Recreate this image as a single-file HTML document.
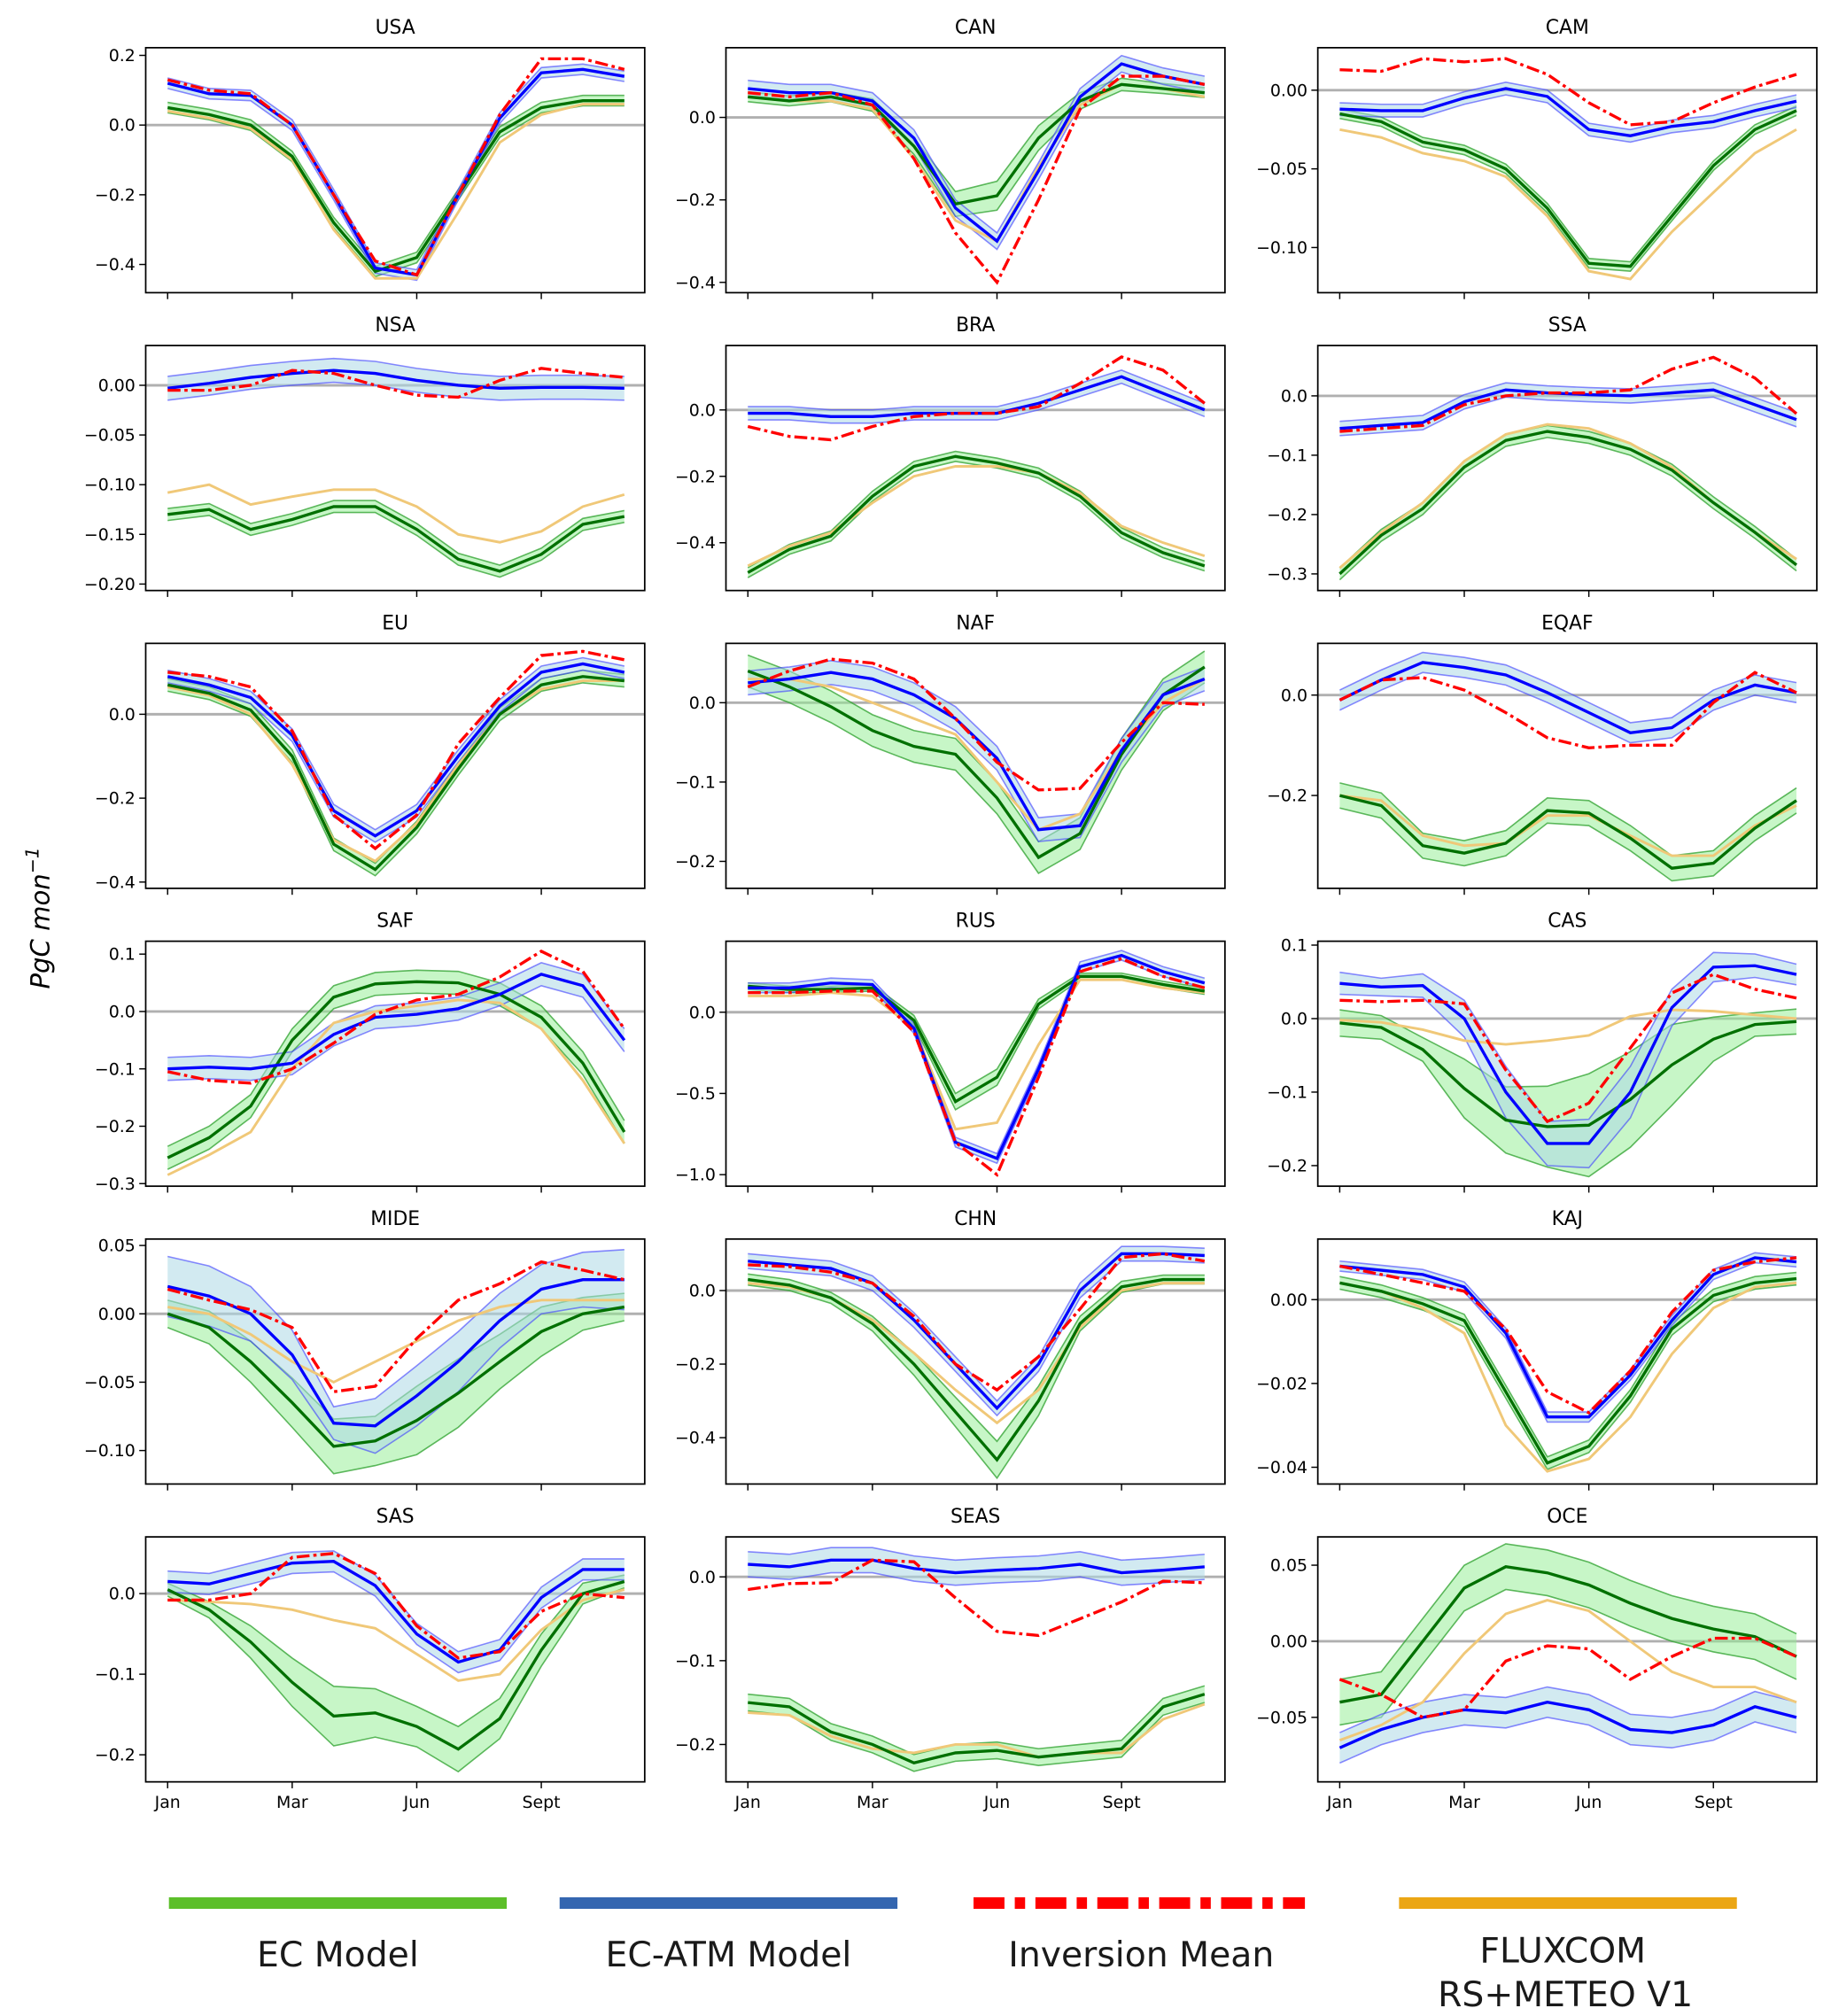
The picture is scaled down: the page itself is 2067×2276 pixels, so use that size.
<!DOCTYPE html>
<html><head><meta charset="utf-8">
<style>
html,body{margin:0;padding:0;background:#fff;}
svg{display:block;font-family:"DejaVu Sans","Liberation Sans",sans-serif;}
</style></head>
<body>
<svg id="fig" width="2067" height="2276" viewBox="0 0 1420 1563.6" preserveAspectRatio="none" xmlns="http://www.w3.org/2000/svg"></svg>
<script>
const months = ["Jan","Feb","Mar","Apr","May","Jun","Jul","Aug","Sep","Oct","Nov","Dec"];
const xTickIdx = [0,3,6,9];
const xTickLabels = ["Jan","Mar","Jun","Sept"];
const regions = ["USA","CAN","CAM","NSA","BRA","SSA","EU","NAF","EQAF","SAF","RUS","CAS","MIDE","CHN","KAJ","SAS","SEAS","OCE"];
const yLims = [[-0.481,0.222],[-0.425,0.169],[-0.1287,0.027],[-0.2065,0.040],[-0.544,0.194],[-0.328,0.0848],[-0.415,0.169],[-0.234,0.0748],[-0.385,0.103],[-0.3045,0.1225],[-1.071,0.437],[-0.228,0.1053],[-0.1245,0.0547],[-0.526,0.14],[-0.044,0.01446],[-0.2336,0.0704],[-0.2446,0.0477],[-0.0924,0.0686]];
const yTicks = [[0.2,0,-0.2,-0.4],[0,-0.2,-0.4],[0,-0.05,-0.1],[0,-0.05,-0.1,-0.15,-0.2],[0,-0.2,-0.4],[0,-0.1,-0.2,-0.3],[0,-0.2,-0.4],[0,-0.1,-0.2],[0,-0.2],[0.1,0,-0.1,-0.2,-0.3],[0,-0.5,-1.0],[0.1,0,-0.1,-0.2],[0.05,0,-0.05,-0.1],[0,-0.2,-0.4],[0,-0.02,-0.04],[0,-0.1,-0.2],[0,-0.1,-0.2],[0.05,0,-0.05]];
const yTickDec = [1,1,2,2,1,1,1,1,1,1,1,1,2,1,2,1,1,2];
const ecatmMean = [
[0.12,0.09,0.085,0.0,-0.2,-0.41,-0.43,-0.2,0.02,0.15,0.16,0.14],
[0.07,0.06,0.06,0.04,-0.05,-0.22,-0.3,-0.13,0.05,0.13,0.1,0.08],
[-0.012,-0.013,-0.013,-0.005,0.001,-0.004,-0.025,-0.029,-0.023,-0.02,-0.013,-0.007],
[-0.003,0.002,0.008,0.012,0.015,0.012,0.005,0.0,-0.003,-0.002,-0.002,-0.003],
[-0.01,-0.01,-0.02,-0.02,-0.01,-0.01,-0.01,0.02,0.06,0.1,0.05,0.0],
[-0.055,-0.05,-0.045,-0.01,0.01,0.005,0.002,0.0,0.005,0.01,-0.015,-0.04],
[0.09,0.07,0.04,-0.05,-0.23,-0.29,-0.23,-0.1,0.02,0.1,0.12,0.1],
[0.025,0.03,0.038,0.03,0.01,-0.02,-0.07,-0.16,-0.155,-0.06,0.01,0.03],
[-0.01,0.03,0.065,0.055,0.04,0.005,-0.035,-0.075,-0.065,-0.01,0.02,0.005],
[-0.1,-0.097,-0.1,-0.09,-0.04,-0.01,-0.005,0.005,0.03,0.065,0.045,-0.05],
[0.15,0.15,0.18,0.17,-0.1,-0.8,-0.9,-0.35,0.28,0.35,0.25,0.18],
[0.048,0.043,0.045,0.0,-0.1,-0.17,-0.17,-0.1,0.015,0.07,0.072,0.06],
[0.02,0.013,0.0,-0.03,-0.08,-0.082,-0.06,-0.035,-0.005,0.018,0.025,0.025],
[0.08,0.07,0.06,0.02,-0.08,-0.2,-0.32,-0.2,0.0,0.1,0.1,0.095],
[0.008,0.007,0.006,0.003,-0.008,-0.028,-0.028,-0.018,-0.005,0.006,0.01,0.009],
[0.015,0.012,0.025,0.038,0.04,0.01,-0.05,-0.085,-0.07,-0.005,0.03,0.03],
[0.015,0.012,0.02,0.02,0.01,0.005,0.008,0.01,0.015,0.005,0.008,0.012],
[-0.07,-0.058,-0.05,-0.045,-0.047,-0.04,-0.045,-0.058,-0.06,-0.055,-0.043,-0.05]];
const ecatmSpread = [0.015,0.02,0.004,0.012,0.02,0.012,0.015,0.015,0.02,0.02,0.03,
 [0.015,0.012,0.016,0.025,0.035,0.03,0.033,0.035,0.025,0.02,0.016,0.014],
 [0.022,0.022,0.02,0.018,0.012,0.02,0.022,0.022,0.02,0.018,0.02,0.022],0.02,0.0012,0.013,0.015,0.01];
const inversionMean = [
[0.13,0.1,0.09,0.0,-0.2,-0.39,-0.43,-0.2,0.03,0.19,0.19,0.16],
[0.06,0.05,0.06,0.03,-0.1,-0.28,-0.4,-0.2,0.02,0.1,0.1,0.08],
[0.013,0.012,0.02,0.018,0.02,0.01,-0.008,-0.022,-0.02,-0.008,0.002,0.01],
[-0.005,-0.005,0.0,0.015,0.012,0.0,-0.01,-0.012,0.005,0.017,0.012,0.008],
[-0.05,-0.08,-0.09,-0.05,-0.02,-0.01,-0.01,0.01,0.08,0.16,0.12,0.02],
[-0.06,-0.055,-0.05,-0.015,0.0,0.005,0.005,0.01,0.045,0.065,0.03,-0.03],
[0.1,0.09,0.065,-0.04,-0.24,-0.32,-0.24,-0.07,0.04,0.14,0.15,0.13],
[0.02,0.04,0.055,0.05,0.03,-0.02,-0.075,-0.11,-0.108,-0.05,0.0,-0.002],
[-0.01,0.03,0.035,0.01,-0.035,-0.085,-0.105,-0.1,-0.1,-0.015,0.045,0.005],
[-0.105,-0.12,-0.125,-0.1,-0.055,-0.005,0.02,0.03,0.06,0.105,0.07,-0.03],
[0.12,0.12,0.13,0.13,-0.12,-0.8,-1.0,-0.4,0.25,0.33,0.22,0.15],
[0.025,0.023,0.025,0.02,-0.07,-0.14,-0.115,-0.04,0.035,0.06,0.04,0.028],
[0.018,0.01,0.003,-0.01,-0.057,-0.053,-0.018,0.01,0.022,0.038,0.032,0.025],
[0.07,0.065,0.05,0.02,-0.07,-0.2,-0.27,-0.18,-0.05,0.09,0.1,0.08],
[0.008,0.006,0.004,0.002,-0.007,-0.022,-0.027,-0.017,-0.003,0.007,0.009,0.01],
[-0.008,-0.008,0.0,0.045,0.05,0.025,-0.04,-0.08,-0.072,-0.022,0.0,-0.005],
[-0.015,-0.008,-0.007,0.02,0.018,-0.025,-0.065,-0.07,-0.05,-0.03,-0.005,-0.007],
[-0.025,-0.035,-0.05,-0.045,-0.013,-0.003,-0.005,-0.025,-0.01,0.002,0.002,-0.01]];
const ecMean = [
[0.05,0.03,0.0,-0.09,-0.28,-0.42,-0.38,-0.2,-0.02,0.05,0.07,0.07],
[0.05,0.04,0.05,0.03,-0.07,-0.21,-0.19,-0.05,0.04,0.08,0.07,0.06],
[-0.015,-0.02,-0.033,-0.038,-0.05,-0.075,-0.11,-0.112,-0.08,-0.048,-0.025,-0.013],
[-0.13,-0.125,-0.145,-0.135,-0.122,-0.122,-0.145,-0.175,-0.187,-0.17,-0.14,-0.132],
[-0.49,-0.42,-0.38,-0.26,-0.17,-0.14,-0.16,-0.19,-0.26,-0.37,-0.43,-0.47],
[-0.3,-0.235,-0.19,-0.12,-0.075,-0.06,-0.07,-0.09,-0.125,-0.18,-0.23,-0.285],
[0.07,0.05,0.01,-0.1,-0.31,-0.37,-0.27,-0.13,0.0,0.07,0.09,0.08],
[0.04,0.02,-0.005,-0.035,-0.055,-0.065,-0.12,-0.195,-0.165,-0.065,0.01,0.045],
[-0.2,-0.22,-0.3,-0.315,-0.295,-0.23,-0.235,-0.285,-0.345,-0.335,-0.265,-0.21],
[-0.255,-0.22,-0.165,-0.05,0.025,0.048,0.052,0.05,0.03,-0.01,-0.09,-0.21],
[0.16,0.14,0.14,0.15,-0.05,-0.55,-0.4,0.05,0.22,0.22,0.17,0.13],
[-0.006,-0.012,-0.042,-0.095,-0.138,-0.147,-0.145,-0.11,-0.063,-0.028,-0.008,-0.004],
[0.0,-0.01,-0.035,-0.065,-0.097,-0.093,-0.078,-0.058,-0.035,-0.013,0.0,0.005],
[0.03,0.015,-0.02,-0.09,-0.2,-0.33,-0.46,-0.3,-0.09,0.01,0.03,0.03],
[0.004,0.002,-0.001,-0.005,-0.022,-0.039,-0.035,-0.023,-0.007,0.001,0.004,0.005],
[0.005,-0.02,-0.06,-0.11,-0.152,-0.148,-0.165,-0.193,-0.155,-0.07,0.0,0.015],
[-0.15,-0.155,-0.185,-0.2,-0.222,-0.21,-0.207,-0.215,-0.21,-0.205,-0.155,-0.14],
[-0.04,-0.035,0.0,0.035,0.049,0.045,0.037,0.025,0.015,0.008,0.003,-0.01]];
const ecSpread = [0.015,[0.012,0.012,0.012,0.015,0.02,0.03,0.035,0.03,0.02,0.015,0.012,0.012],0.003,0.006,0.015,0.01,0.015,0.02,0.025,0.02,
 [0.02,0.02,0.02,0.02,0.03,0.05,0.05,0.03,0.02,0.02,0.02,0.02],
 [0.018,0.016,0.016,0.04,0.045,0.055,0.07,0.065,0.055,0.03,0.016,0.017],
 [0.01,0.012,0.015,0.018,0.02,0.018,0.025,0.025,0.02,0.018,0.012,0.01],
 [0.015,0.015,0.015,0.02,0.03,0.04,0.05,0.04,0.02,0.015,0.012,0.012],0.0015,
 [0.008,0.01,0.02,0.03,0.037,0.03,0.025,0.028,0.025,0.02,0.013,0.008],0.01,0.015];
const fluxcom = [
[0.04,0.02,-0.01,-0.1,-0.3,-0.44,-0.44,-0.25,-0.05,0.03,0.06,0.06],
[0.05,0.04,0.04,0.02,-0.1,-0.25,-0.3,-0.12,0.03,0.08,0.07,0.05],
[-0.025,-0.03,-0.04,-0.045,-0.055,-0.08,-0.115,-0.12,-0.09,-0.065,-0.04,-0.025],
[-0.108,-0.1,-0.12,-0.112,-0.105,-0.105,-0.122,-0.15,-0.158,-0.147,-0.122,-0.11],
[-0.47,-0.41,-0.37,-0.28,-0.2,-0.17,-0.17,-0.19,-0.25,-0.35,-0.4,-0.44],
[-0.29,-0.23,-0.18,-0.11,-0.065,-0.048,-0.055,-0.08,-0.12,-0.18,-0.23,-0.275],
[0.065,0.045,0.0,-0.12,-0.3,-0.35,-0.26,-0.12,0.0,0.06,0.08,0.08],
[0.03,0.03,0.02,0.0,-0.02,-0.04,-0.1,-0.16,-0.14,-0.06,0.0,0.03],
[-0.2,-0.21,-0.28,-0.3,-0.295,-0.24,-0.24,-0.28,-0.32,-0.32,-0.26,-0.22],
[-0.285,-0.25,-0.21,-0.1,-0.02,0.0,0.01,0.02,0.015,-0.03,-0.12,-0.23],
[0.1,0.1,0.12,0.1,-0.1,-0.72,-0.68,-0.2,0.2,0.2,0.15,0.12],
[-0.002,-0.005,-0.015,-0.03,-0.035,-0.03,-0.023,0.003,0.012,0.01,0.005,0.0],
[0.005,0.0,-0.015,-0.035,-0.05,-0.035,-0.02,-0.005,0.005,0.01,0.01,0.01],
[0.02,0.01,-0.02,-0.08,-0.17,-0.27,-0.36,-0.27,-0.1,0.0,0.02,0.02],
[0.004,0.002,-0.002,-0.008,-0.03,-0.041,-0.038,-0.028,-0.013,-0.002,0.003,0.004],
[-0.008,-0.01,-0.013,-0.02,-0.033,-0.043,-0.075,-0.108,-0.1,-0.045,-0.008,0.005],
[-0.162,-0.165,-0.19,-0.205,-0.21,-0.2,-0.2,-0.215,-0.21,-0.21,-0.17,-0.152],
[-0.065,-0.055,-0.04,-0.008,0.018,0.027,0.02,0.0,-0.02,-0.03,-0.03,-0.04]];

const NS = "http://www.w3.org/2000/svg";
const svg = document.getElementById("fig");
function mk(tag, attrs, parent){ const e=document.createElementNS(NS,tag); for(const k in attrs) e.setAttribute(k,attrs[k]); (parent||svg).appendChild(e); return e; }
const colLeft=[113,563,1022], rowTop=[37,268,499,730,961,1192], W=387, H=190;
function fmt(v,d){ const s=Math.abs(v).toFixed(d); return (v<0?"\u2212":"")+s; }
function sp(s,i){ return Array.isArray(s)?s[i]:s; }

regions.forEach((name,p)=>{
  const L=colLeft[p%3], T=rowTop[Math.floor(p/3)];
  const [ymin,ymax]=yLims[p];
  const xs = i => L+17+i*32.2;
  const ys = v => T+H-(v-ymin)/(ymax-ymin)*H;
  const g = mk("g",{});
  
  
  const t = mk("text",{x:L+W/2,y:T-11,"text-anchor":"middle","font-size":15,fill:"#000"},g);
  t.textContent=name;
  
  
  const cp = mk("clipPath",{id:"c"+p},g); mk("rect",{x:L,y:T,width:W,height:H},cp);
  const pg = mk("g",{"clip-path":"url(#c"+p+")"},g);
  const zl = mk("line",{x1:L,x2:L+W,y1:ys(0),y2:ys(0),stroke:"#b0b0b0","stroke-width":2},pg);
  
  
  const path = arr => arr.map((v,i)=>(i?"L":"M")+xs(i).toFixed(1)+","+ys(v).toFixed(1)).join("");
  function band(mean,spread,fill,edge,nm){
    const up=mean.map((v,i)=>v+sp(spread,i)), lo=mean.map((v,i)=>v-sp(spread,i));
    let d=path(up)+lo.slice().reverse().map((v,j)=>"L"+xs(11-j).toFixed(1)+","+ys(v).toFixed(1)).join("")+"Z";
    const b=mk("path",{d:d,fill:fill,stroke:"none"},pg);
    
    
    mk("path",{d:path(up),fill:"none",stroke:edge,"stroke-width":1.1},pg);
    mk("path",{d:path(lo),fill:"none",stroke:edge,"stroke-width":1.1},pg);
  }
  band(ecMean[p],ecSpread[p],"rgba(144,238,144,0.5)","rgba(44,160,44,0.75)","ec-band");
  band(ecatmMean[p],ecatmSpread[p],"rgba(173,216,230,0.55)","rgba(60,60,255,0.6)","ecatm-band");
  const fo=mk("path",{d:path(fluxcom[p]),fill:"none",stroke:"#f0c878","stroke-width":2},pg);
  
  
  const gl=mk("path",{d:path(ecMean[p]),fill:"none",stroke:"#007000","stroke-width":2.3},pg);
  
  
  const bl=mk("path",{d:path(ecatmMean[p]),fill:"none",stroke:"#0000ff","stroke-width":2.3},pg);
  
  
  const rl=mk("path",{d:path(inversionMean[p]),fill:"none",stroke:"#ff0000","stroke-width":2.3,"stroke-dasharray":"10,3,2.5,3"},pg);
  
  
  const fr=mk("rect",{x:L,y:T,width:W,height:H,fill:"none",stroke:"#000","stroke-width":1.2},g);
  
  
  yTicks[p].forEach(v=>{
    const y=ys(v);
    mk("line",{x1:L-5,x2:L,y1:y,y2:y,stroke:"#000","stroke-width":1},g);
    const tl=mk("text",{x:L-8,y:y+4.5,"text-anchor":"end","font-size":13,fill:"#000"},g);
    tl.textContent=fmt(v,yTickDec[p]);
    
    
  });
  xTickIdx.forEach((mi,k)=>{
    const x=xs(mi);
    mk("line",{x1:x,x2:x,y1:T+H,y2:T+H+5,stroke:"#000","stroke-width":1},g);
    if(Math.floor(p/3)===5){
      const xl=mk("text",{x:x,y:T+H+20,"text-anchor":"middle","font-size":13,fill:"#000"},g);
      xl.textContent=xTickLabels[k];
      
      
    }
  });
});
</script>
<svg style="position:absolute;left:0;top:0" width="2067" height="2276" viewBox="0 0 1420 1563.6" preserveAspectRatio="none" xmlns="http://www.w3.org/2000/svg" font-family="Liberation Sans, DejaVu Sans, sans-serif">
  <text x="0" y="0" transform="translate(38,712) rotate(-90)" text-anchor="middle" font-size="20" font-style="italic" font-family="DejaVu Sans, sans-serif">PgC mon<tspan dy="-8" font-size="14">−1</tspan></text>
  <g>
    <line x1="131" x2="393" y1="1476" y2="1476" stroke="#5cbf2a" stroke-width="9"/>
    <line x1="434" x2="696" y1="1476" y2="1476" stroke="#3466b0" stroke-width="9"/>
    <line x1="755" x2="1012" y1="1476" y2="1476" stroke="#ff0000" stroke-width="9" stroke-dasharray="24,8,8,8"/>
    <line x1="1085" x2="1347" y1="1476" y2="1476" stroke="#eba614" stroke-width="9"/>
    <text x="262" y="1525" text-anchor="middle" font-size="27" fill="#1a1a1a">EC Model</text>
    <text x="565" y="1525" text-anchor="middle" font-size="27" fill="#1a1a1a">EC-ATM Model</text>
    <text x="885" y="1525" text-anchor="middle" font-size="27" fill="#1a1a1a">Inversion Mean</text>
    <text x="1212" y="1522" text-anchor="middle" font-size="27" fill="#1a1a1a">FLUXCOM</text>
    <text x="1214" y="1556" text-anchor="middle" font-size="27" fill="#1a1a1a">RS+METEO V1</text>
  </g>
</svg>
</body></html>
